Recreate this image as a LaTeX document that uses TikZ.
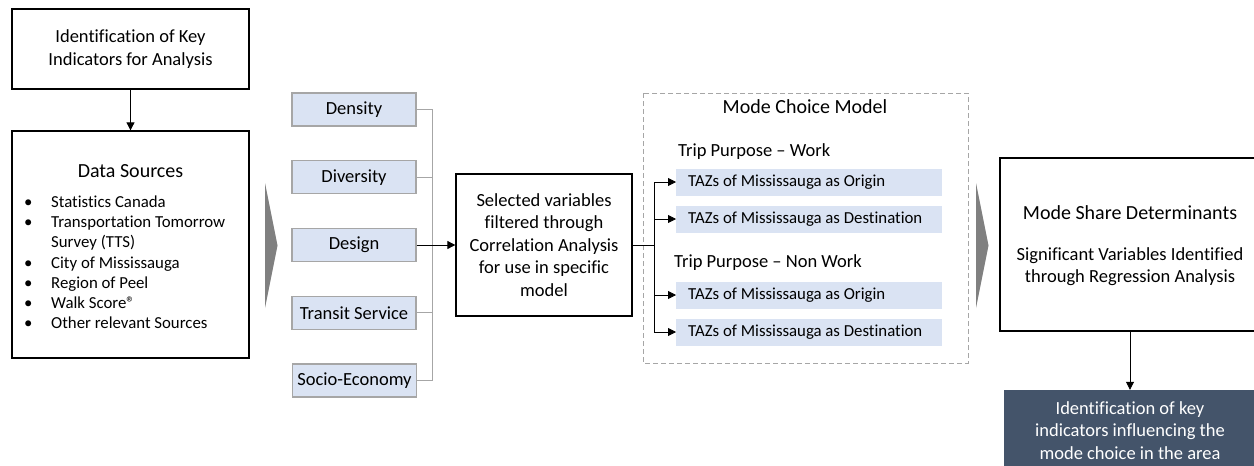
\documentclass[tikz,border=0pt]{standalone}
\usepackage{fontspec}
\setmainfont[Ligatures=NoCommon]{Carlito}
\usetikzlibrary{arrows.meta}
\definecolor{lightblue}{HTML}{DAE3F3}
\definecolor{boxgray}{HTML}{A6A6A6}
\definecolor{chevgray}{HTML}{808080}
\definecolor{darkslate}{HTML}{44546A}
\newcommand\fttl{\fontsize{20}{24}\selectfont}
\newcommand\fnrm{\fontsize{18.5}{22.5}\selectfont}
\newcommand\fsml{\fontsize{16.8}{20.2}\selectfont}
\tikzset{
  mainbox/.style={draw=black, line width=1.3pt, inner sep=0pt},
  varbox/.style={draw=boxgray, fill=lightblue, line width=1.2pt, minimum width=124pt, minimum height=33pt, inner sep=0pt, font=\fnrm},
  tazbox/.style={fill=lightblue, anchor=west, text width=242pt, inner xsep=12pt, inner ysep=0pt, minimum height=27pt, align=flush left, font=\fsml},
  arr/.style={-{Triangle[length=8pt,width=8pt]}, line width=0.8pt},
  busline/.style={draw=boxgray, line width=1pt},
  chevron/.style={fill=chevgray, draw=none},
  txt/.style={inner sep=0pt, align=center}
}
\begin{document}
\begin{tikzpicture}[x=1pt,y=-1pt]
\clip (0,0) rectangle (1254,466);
\fill[white] (0,0) rectangle (1254,466);

% left column
\node[mainbox, minimum width=237pt, minimum height=80pt] (key) at (130.5,49) {};
\node[txt, font=\fnrm] (keyt) at (key.center) {Identification of Key\\Indicators for Analysis};
\node[mainbox, minimum width=237pt, minimum height=227pt] (data) at (130.5,244.5) {};
\draw[arr] (key.south) -- (data.north);
\node[txt, font=\fttl] (datat) at (130.5,171) {Data Sources};
\node[inner sep=0pt, anchor=base west, font=\fsml] (list) at (24,207.5) {%
\begin{tabular}[t]{@{}p{27pt}@{}l@{}}
\textbullet & Statistics Canada\\
\textbullet & Transportation Tomorrow\\
 & Survey (TTS)\\
\textbullet & City of Mississauga\\
\textbullet & Region of Peel\\
\textbullet & Walk Score®\\
\textbullet & Other relevant Sources
\end{tabular}};

% chevron 1
\fill[chevron] (265,183) -- (277.5,245.5) -- (265,308) -- cycle;

% variable boxes
\node[varbox] (dens) at (354,109.5) {Density};
\node[varbox] (div) at (354,177.2) {Diversity};
\node[varbox] (des) at (354,245) {Design};
\node[varbox] (tran) at (354,312.8) {Transit Service};
\node[varbox] (soc) at (354.5,380.5) {Socio-Economy};
\coordinate (bt) at (432,109.5);
\coordinate (bb) at (432,380.5);
\draw[busline] (dens.east) -- (bt) -- (bb) -- (soc.east);
\draw[busline] (div.east) -- (div.east -| bt);
\draw[busline] (tran.east) -- (tran.east -| bt);

% selected box
\node[mainbox, minimum width=176pt, minimum height=142pt] (sel) at (544,245) {};
\node[txt, font=\fnrm] (selt) at (sel.center) {Selected variables\\filtered through\\Correlation Analysis\\for use in specific\\model};
\draw[arr] (des.east) -- (sel.west);

% mode choice model
\draw[boxgray, line width=1pt, dash pattern=on 5pt off 3pt] (643,93) rectangle (968,363);
\node[txt, font=\fttl] (mcm) at (805,107) {Mode Choice Model};
\node[inner sep=0pt, anchor=west, font=\fnrm] (tpw) at (678,152) {Trip Purpose – Work};
\node[tazbox] (o1) at (676,182) {TAZs of Mississauga as Origin};
\node[tazbox] (d1) at (676,219) {TAZs of Mississauga as Destination};
\node[inner sep=0pt, anchor=west, font=\fnrm] (tpn) at (674,263) {Trip Purpose – Non Work};
\node[tazbox] (o2) at (676,295) {TAZs of Mississauga as Origin};
\node[tazbox] (d2) at (676,332) {TAZs of Mississauga as Destination};
\coordinate (mj) at (654,245);
\coordinate (mt) at (654,182);
\coordinate (mb) at (654,332);
\draw[line width=0.8pt] (sel.east) -- (mj);
\draw[line width=0.8pt] (mt) -- (mb);
\draw[arr] (mt) -- (o1.west);
\draw[arr] (d1.west -| mj) -- (d1.west);
\draw[arr] (o2.west -| mj) -- (o2.west);
\draw[arr] (mb) -- (d2.west);

% chevron 2
\fill[chevron] (976,183) -- (988.5,245.5) -- (976,308) -- cycle;

% mode share determinants
\node[mainbox, minimum width=260pt, minimum height=173pt] (msd) at (1130,244.5) {};
\node[txt, font=\fttl] (msdt) at (1130,213) {Mode Share Determinants};
\node[txt, font=\fnrm] (msds) at (1130,266.5) {Significant Variables Identified\\through Regression Analysis};
\node[fill=darkslate, minimum width=252pt, minimum height=80pt, inner sep=0pt] (fin) at (1130,430) {};
\node[txt, font=\fnrm, text=white] (fint) at (1130,430.5) {Identification of key\\indicators influencing the\\mode choice in the area};
\draw[arr] (msd.south) -- (fin.north);
\end{tikzpicture}
\end{document}
